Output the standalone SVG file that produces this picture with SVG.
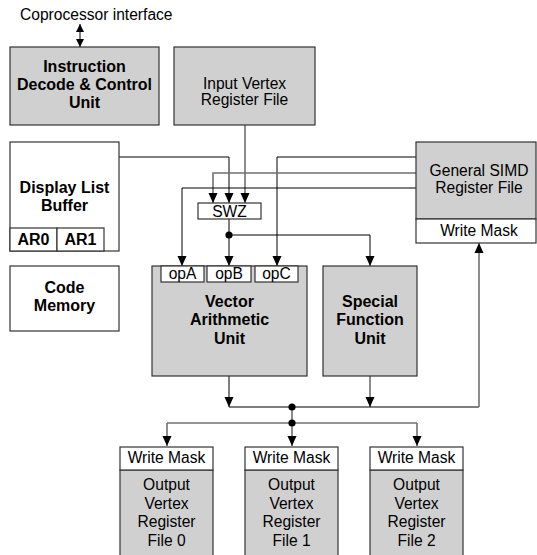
<svg xmlns="http://www.w3.org/2000/svg" width="537" height="555" viewBox="0 0 537 555">
<style>
.box{fill:#d0d0d0;stroke:#333;stroke-width:1.2}
.wbox{fill:#fff;stroke:#333;stroke-width:1.2}
.t{font-family:"Liberation Sans",Arial,sans-serif;font-size:15.6px;fill:#000;text-anchor:middle}
.b{font-family:"Liberation Sans",Arial,sans-serif;font-size:16px;font-weight:bold;fill:#000;text-anchor:middle}
.k{fill:none;stroke:#000;stroke-width:1}
.g{fill:none;stroke:#707070;stroke-width:1.6}
</style>
<defs>
<marker id="ah" markerUnits="userSpaceOnUse" markerWidth="10" markerHeight="10" refX="10" refY="5" orient="auto">
<path d="M0,0.5 L10,5 L0,9.5 z" fill="#000"/>
</marker>
<marker id="as" markerUnits="userSpaceOnUse" markerWidth="8" markerHeight="8" refX="8" refY="4" orient="auto-start-reverse">
<path d="M0,0 L8,4 L0,8 z" fill="#000"/>
</marker>
</defs>
<rect width="537" height="555" fill="#fff"/>

<g id="coprocessor">
<text x="20" y="20" class="t" style="text-anchor:start">Coprocessor interface</text>
</g>

<g id="connectors">
<line x1="80" y1="24" x2="80" y2="47" class="k" stroke-width="1.5" marker-start="url(#as)" marker-end="url(#as)"/>
<polyline points="119,157 229,157 229,203" class="k" marker-end="url(#ah)"/>
<polyline points="245,125 245,203" class="g" marker-end="url(#ah)"/>
<polyline points="416,157 277,157 277,266" class="k" marker-end="url(#ah)"/>
<polyline points="416,173 213,173 213,203" class="g" marker-end="url(#ah)"/>
<polyline points="416,188 182,188 182,266" class="k" marker-end="url(#ah)"/>
<polyline points="229,219 229,266" class="k" marker-end="url(#ah)"/>
<polyline points="229,235 370,235 370,266" class="k" marker-end="url(#ah)"/>
<circle cx="229" cy="235" r="3.6" fill="#000"/>
<polyline points="229,376 229,407" class="k" marker-end="url(#ah)"/>
<polyline points="370,376 370,407" class="g" marker-end="url(#ah)"/>
<polyline points="229,407 479,407" class="k"/>
<polyline points="479,407 479,243" class="g" marker-end="url(#ah)"/>
<polyline points="292,407 292,446" class="g" marker-end="url(#ah)"/>
<polyline points="167,423 417,423" class="g"/>
<polyline points="167,423 167,446" class="g" marker-end="url(#ah)"/>
<polyline points="417,423 417,446" class="g" marker-end="url(#ah)"/>
<circle cx="292" cy="407" r="3.6" fill="#000"/>
<circle cx="292" cy="423" r="3.6" fill="#000"/>
</g>

<g id="idcu">
<rect x="10" y="47" width="149" height="78" class="box"/>
<text x="84.5" y="72" class="b">Instruction</text>
<text x="84.5" y="90" class="b">Decode &amp; Control</text>
<text x="84.5" y="108" class="b">Unit</text>
</g>

<g id="ivrf">
<rect x="174" y="47" width="141" height="78" class="box"/>
<text x="244.5" y="89" class="t">Input Vertex</text>
<text x="244.5" y="105" class="t">Register File</text>
</g>

<g id="dlb">
<rect x="10" y="142" width="109" height="109" class="wbox"/>
<text x="64.5" y="193" class="b">Display List</text>
<text x="64.5" y="211" class="b">Buffer</text>
<rect x="10" y="228" width="47" height="23" class="wbox"/>
<rect x="57" y="228" width="47" height="23" class="wbox"/>
<text x="33.5" y="245" class="b">AR0</text>
<text x="80.5" y="245" class="b">AR1</text>
</g>

<g id="code">
<rect x="10" y="266" width="109" height="65" class="wbox"/>
<text x="64.5" y="293" class="b">Code</text>
<text x="64.5" y="311" class="b">Memory</text>
</g>

<g id="simd">
<rect x="416" y="142" width="120" height="77" class="box"/>
<rect x="416" y="219" width="120" height="24" class="wbox"/>
<text x="479" y="176" class="t">General SIMD</text>
<text x="479" y="193" class="t">Register File</text>
<text x="479" y="236" class="t">Write Mask</text>
</g>

<g id="swz">
<rect x="198" y="203" width="63" height="16" class="wbox"/>
<text x="229.5" y="216.5" class="t">SWZ</text>
</g>

<g id="vau">
<rect x="152" y="266" width="155" height="110" class="box"/>
<rect x="161" y="266" width="43" height="16" class="wbox"/>
<rect x="207" y="266" width="44" height="16" class="wbox"/>
<rect x="255" y="266" width="43" height="16" class="wbox"/>
<text x="182.5" y="279" class="t">opA</text>
<text x="229" y="279" class="t">opB</text>
<text x="276.5" y="279" class="t">opC</text>
<text x="229.5" y="307" class="b">Vector</text>
<text x="229.5" y="325" class="b">Arithmetic</text>
<text x="229.5" y="344" class="b">Unit</text>
</g>

<g id="sfu">
<rect x="323" y="266" width="94" height="110" class="box"/>
<text x="370" y="307" class="b">Special</text>
<text x="370" y="325" class="b">Function</text>
<text x="370" y="344" class="b">Unit</text>
</g>

<g id="ovrf0">
<rect x="120" y="470" width="93" height="95" class="box"/>
<rect x="120" y="447" width="93" height="23" class="wbox"/>
<text x="166.5" y="463" class="t">Write Mask</text>
<text x="166.5" y="490" class="t">Output</text>
<text x="166.5" y="508.5" class="t">Vertex</text>
<text x="166.5" y="527" class="t">Register</text>
<text x="166.5" y="545.5" class="t">File 0</text>
</g>

<g id="ovrf1">
<rect x="245" y="470" width="93" height="95" class="box"/>
<rect x="245" y="447" width="93" height="23" class="wbox"/>
<text x="291.5" y="463" class="t">Write Mask</text>
<text x="291.5" y="490" class="t">Output</text>
<text x="291.5" y="508.5" class="t">Vertex</text>
<text x="291.5" y="527" class="t">Register</text>
<text x="291.5" y="545.5" class="t">File 1</text>
</g>

<g id="ovrf2">
<rect x="370" y="470" width="93" height="95" class="box"/>
<rect x="370" y="447" width="93" height="23" class="wbox"/>
<text x="416.5" y="463" class="t">Write Mask</text>
<text x="416.5" y="490" class="t">Output</text>
<text x="416.5" y="508.5" class="t">Vertex</text>
<text x="416.5" y="527" class="t">Register</text>
<text x="416.5" y="545.5" class="t">File 2</text>
</g>
</svg>
